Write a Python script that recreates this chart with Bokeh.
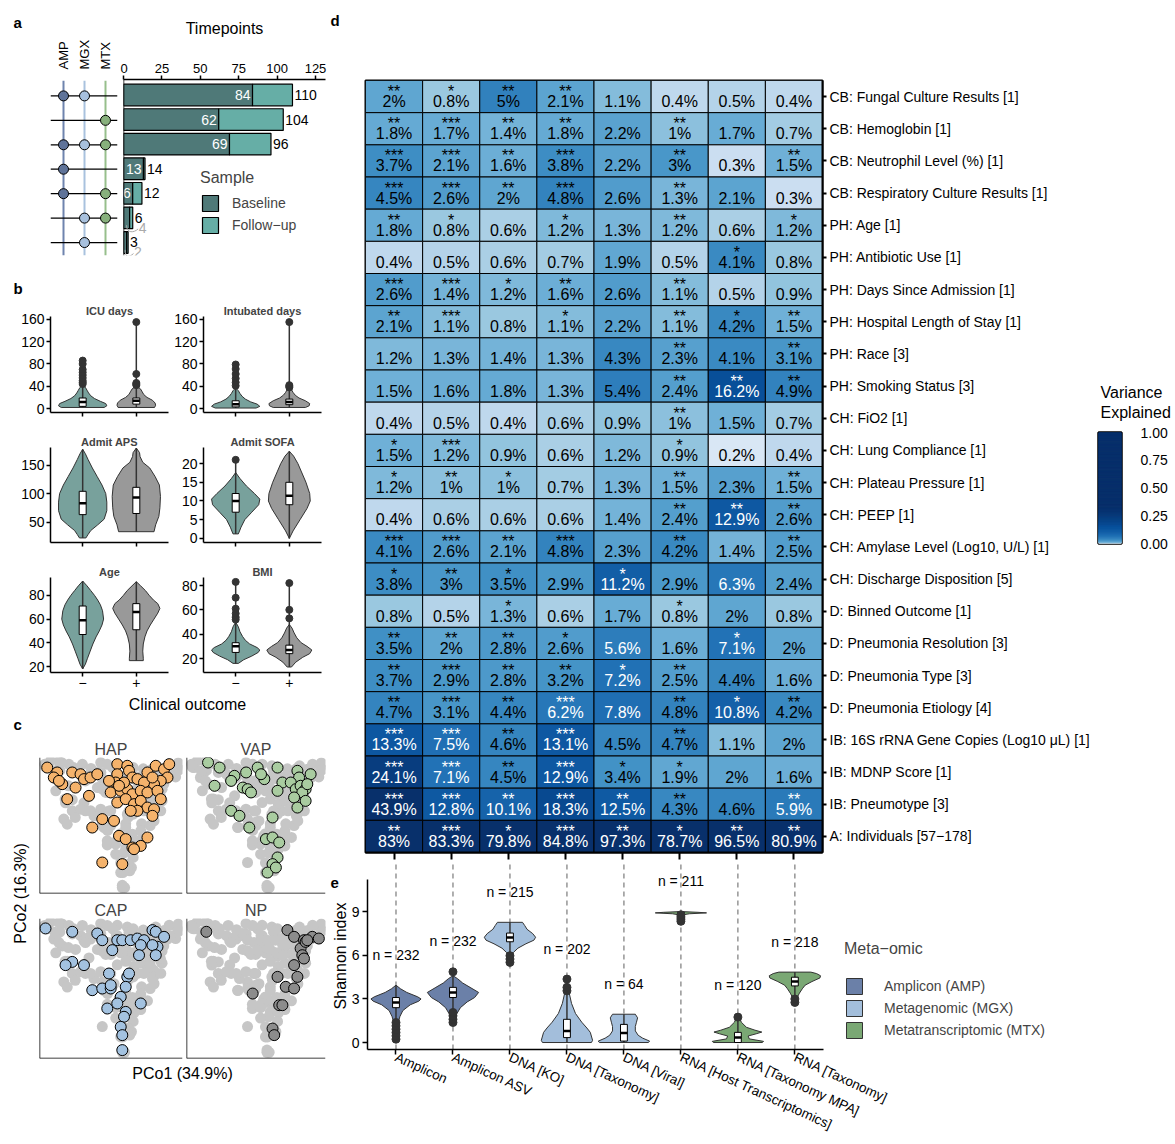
import numpy as np
from bokeh.plotting import figure
from bokeh.layouts import row, column
from bokeh.models import (Range1d, FactorRange, ColumnDataSource, Label, Legend,
                          LegendItem, FixedTicker, Span, LogColorMapper, LinearAxis,
                          NumeralTickFormatter)
from bokeh.core.properties import value
from bokeh.transform import transform
from bokeh.palettes import Blues256
from bokeh.embed import file_html
from bokeh.resources import INLINE

FONT = "Liberation Sans"

# ---------------- panel a data ----------------
A_SETS = ["AMP", "MGX", "MTX"]
A_ROWS = [1, 2, 3, 4, 5, 6, 7]
A_AMP = [1, 0, 1, 1, 1, 0, 0]
A_MGX = [1, 0, 1, 0, 0, 1, 1]
A_MTX = [0, 1, 1, 0, 1, 1, 0]
A_TOTAL = [110, 104, 96, 14, 12, 6, 3]
A_BASE = [84, 62, 69, 13, 6, 4, 2]
A_TICKS = [0, 25, 50, 75, 100, 125]

# ---------------- panel b data ----------------
ICU_NEG = dict(y=[2, 5, 9, 13, 18, 23, 28, 33, 38, 42], w=[0.4, 0.45, 0.43, 0.33, 0.22, 0.15, 0.11, 0.08, 0.05, 0.0], box=[4, 12, 19], out=[44, 47, 50, 55, 60, 65, 70, 80, 86])
ICU_POS = dict(y=[2, 6, 10, 15, 20, 25, 30, 35, 41], w=[0.34, 0.36, 0.35, 0.3, 0.2, 0.14, 0.11, 0.08, 0.0], box=[8, 14, 19], out=[42, 44, 46, 62, 155])
INT_NEG = dict(y=[1, 4, 8, 12, 17, 22, 27, 32, 37], w=[0.38, 0.45, 0.4, 0.28, 0.18, 0.12, 0.08, 0.05, 0.0], box=[3, 8, 14], out=[41, 47, 54, 62, 71, 79])
INT_POS = dict(y=[2, 5, 9, 14, 19, 24, 29, 34, 38], w=[0.3, 0.37, 0.38, 0.3, 0.18, 0.11, 0.07, 0.04, 0.0], box=[7, 12, 17], out=[38, 40, 42, 155])
APS_NEG = dict(y=[22, 28, 35, 45, 55, 70, 85, 100, 115, 130, 145, 160, 170, 178], w=[0.06, 0.1, 0.15, 0.28, 0.4, 0.45, 0.45, 0.43, 0.36, 0.27, 0.18, 0.1, 0.05, 0.0], box=[63, 83, 104], out=[])
APS_POS = dict(y=[33, 45, 60, 75, 95, 115, 130, 145, 155, 165, 172, 180], w=[0.33, 0.36, 0.42, 0.44, 0.45, 0.43, 0.35, 0.25, 0.12, 0.07, 0.06, 0.0], box=[65, 93, 111], out=[])
SOFA_NEG = dict(y=[1.2, 3, 5, 7, 9, 10.5, 12, 14, 16, 17.6], w=[0.05, 0.1, 0.17, 0.3, 0.43, 0.45, 0.35, 0.2, 0.08, 0.0], box=[7, 10, 12], out=[21])
SOFA_POS = dict(y=[0, 2, 5, 8, 10, 12, 15, 18, 20, 22, 23.3], w=[0.0, 0.07, 0.2, 0.33, 0.39, 0.38, 0.31, 0.22, 0.16, 0.08, 0.0], box=[9, 11.4, 15], out=[])
AGE_NEG = dict(y=[18, 22, 27, 33, 39, 45, 50, 55, 60, 67, 72, 76, 80, 84, 88, 92], w=[0.0, 0.05, 0.09, 0.14, 0.19, 0.25, 0.31, 0.36, 0.39, 0.37, 0.33, 0.28, 0.22, 0.15, 0.08, 0.0], box=[47, 59, 71], out=[])
AGE_POS = dict(y=[25, 27, 33, 39, 45, 50, 55, 60, 65, 69, 73, 76, 80, 84, 88, 91.5], w=[0.13, 0.13, 0.12, 0.13, 0.16, 0.2, 0.26, 0.33, 0.4, 0.44, 0.4, 0.32, 0.24, 0.17, 0.08, 0.0], box=[51, 66, 73], out=[])
BMI_NEG = dict(y=[16, 19, 22, 25, 27, 29, 32, 35, 38, 42, 46, 50], w=[0.05, 0.15, 0.3, 0.42, 0.45, 0.4, 0.26, 0.18, 0.13, 0.08, 0.05, 0.0], box=[25, 30, 33], out=[52, 54, 57, 61, 70, 83])
BMI_POS = dict(y=[13, 17, 21, 24, 27, 30, 33, 37, 41, 45, 48], w=[0.04, 0.12, 0.25, 0.38, 0.42, 0.33, 0.22, 0.14, 0.09, 0.05, 0.0], box=[24, 27, 31], out=[53, 60, 82])
B_TITLES = ["ICU days", "Intubated days", "Admit APS", "Admit SOFA", "Age", "BMI"]
B_TICKS = [[0, 40, 80, 120, 160], [0, 40, 80, 120, 160], [50, 100, 150], [0, 5, 10, 15, 20], [20, 40, 60, 80], [20, 40, 60, 80]]
B_OUTCOME = ["\u2212", "+"]

# ---------------- panel c data (PCo coordinates, relative units) ----------------
HAP_PTS = [(5.4, 92.6), (12.4, 89.0), (10.0, 85.3), (15.9, 80.4), (13.6, 82.8), (22.9, 89.0), (28.7, 87.7), (31.1, 84.1),
           (35.7, 85.3), (40.4, 87.7), (25.2, 77.9), (19.4, 69.4), (34.6, 71.8), (54.4, 95.1), (61.4, 93.9), (62.6, 90.2),
           (54.4, 87.7), (65.0, 85.3), (68.5, 84.1), (75.5, 89.0), (81.3, 93.9), (87.1, 91.4), (90.7, 95.1), (89.5, 85.3),
           (84.8, 82.8), (80.1, 80.4), (73.1, 81.6), (79.0, 85.3), (49.8, 74.3), (56.8, 75.5), (61.4, 76.7), (65.0, 73.0),
           (70.8, 75.5), (75.5, 74.3), (82.5, 75.5), (84.8, 69.4), (54.4, 66.9), (60.3, 69.4), (66.1, 65.7), (70.8, 68.1),
           (75.5, 63.2), (80.1, 62.0), (79.0, 57.1), (68.5, 60.8), (63.8, 60.8), (43.9, 54.7), (52.1, 53.4), (36.9, 48.5),
           (55.6, 42.4), (60.3, 40.0), (75.5, 41.2), (70.8, 35.0), (65.0, 33.8), (66.1, 32.6), (43.9, 22.8), (57.9, 21.6),
           (53.3, 81.6), (59.1, 81.6), (48.6, 82.8), (55.6, 79.2)]
VAP_PTS = [(15.5, 96.3), (23.8, 92.6), (20.2, 79.2), (34.5, 86.5), (42.9, 89.0), (40.5, 77.9), (44.0, 76.7), (51.2, 92.6),
           (56.0, 84.1), (53.6, 87.7), (65.5, 92.6), (69.0, 81.6), (65.5, 75.5), (79.8, 90.2), (81.0, 85.3), (89.3, 87.7),
           (75.0, 81.6), (78.6, 76.7), (82.1, 79.2), (85.7, 76.7), (83.3, 74.3), (77.4, 70.6), (79.8, 63.2), (85.7, 68.1),
           (32.1, 60.8), (38.1, 57.1), (45.2, 48.5), (61.9, 55.9), (57.1, 40.0), (61.9, 41.2), (66.7, 37.5), (65.5, 26.5),
           (61.9, 21.6), (58.3, 15.4), (64.3, 19.1), (46.4, 74.3), (32.1, 82.8), (86.9, 80.4)]
CAP_PTS = [(4.2, 92.9), (22.9, 90.5), (40.4, 89.3), (43.9, 84.5), (54.4, 84.5), (57.9, 84.5), (63.8, 84.5), (68.5, 85.7),
           (73.1, 84.5), (79.0, 91.7), (81.3, 90.5), (87.1, 86.9), (82.5, 79.8), (79.0, 81.0), (70.8, 81.0), (81.3, 73.8),
           (22.9, 69.0), (31.1, 66.7), (18.2, 66.7), (36.9, 48.8), (43.9, 50.0), (49.8, 50.0), (48.6, 60.7), (49.8, 52.4),
           (61.4, 58.3), (62.6, 60.7), (60.3, 51.2), (56.8, 44.0), (70.8, 39.3), (47.4, 35.7), (54.4, 39.3), (60.3, 33.3),
           (59.1, 29.8), (56.8, 22.6), (57.9, 16.7), (57.9, 6.0), (69.6, 73.8), (50.9, 77.4)]
NP_PTS = [(14.3, 90.5), (72.6, 91.7), (77.4, 86.9), (84.5, 84.5), (90.5, 86.9), (95.2, 85.7), (82.1, 78.6), (83.3, 73.8),
          (77.4, 66.7), (84.5, 71.4), (85.7, 83.3), (65.5, 58.3), (71.4, 51.2), (77.4, 50.0), (47.6, 46.4), (66.7, 38.1),
          (69.0, 38.1), (61.9, 21.4), (63.1, 16.7), (79.8, 58.3), (86.9, 84.5)]
OTHER_PTS = [(13.6, 97.0), (20.6, 95.0), (42.8, 96.3), (47.4, 95.0), (17.0, 54.7), (22.9, 60.8), (28.7, 62.0), (35.7, 60.8),
             (42.8, 62.0), (49.8, 60.8), (60.3, 48.5), (65.0, 43.6), (53.3, 36.3), (47.4, 38.7), (53.3, 28.9), (56.8, 15.4),
             (61.4, 19.1), (57.9, 4.4), (70.8, 46.0), (80.1, 53.4), (91.8, 87.7), (96.5, 92.6), (7.7, 97.5), (11.4, 75.5),
             (19.4, 51.0), (73.0, 60.8), (84.8, 60.8), (3.6, 95.0), (10.7, 90.2), (17.9, 69.4), (25.0, 55.9), (97.0, 96.0),
             (97.5, 91.0), (59.5, 4.4), (30.0, 95.0), (36.0, 92.0)]
C_GROUPS = ["HAP", "VAP", "CAP", "NP"]

# ---------------- panel d data ----------------
E_CATS = ["Amplicon", "Amplicon ASV", "DNA [KO]", "DNA [Taxonomy]", "DNA [Viral]",
          "RNA [Host Transcriptomics]", "RNA [Taxonomy MPA]", "RNA [Taxonomy]"]
HM_ROWS = ["CB: Fungal Culture Results [1]", "CB: Hemoglobin [1]", "CB: Neutrophil Level (%) [1]",
           "CB: Respiratory Culture Results [1]", "PH: Age [1]", "PH: Antibiotic Use [1]",
           "PH: Days Since Admission [1]", "PH: Hospital Length of Stay [1]", "PH: Race [3]",
           "PH: Smoking Status [3]", "CH: FiO2 [1]", "CH: Lung Compliance [1]", "CH: Plateau Pressure [1]",
           "CH: PEEP [1]", "CH: Amylase Level (Log10, U/L) [1]", "CH: Discharge Disposition [5]",
           "D: Binned Outcome [1]", "D: Pneumonia Resolution [3]", "D: Pneumonia Type [3]",
           "D: Pneumonia Etiology [4]", "IB: 16S rRNA Gene Copies (Log10 \u03bcL) [1]", "IB: MDNP Score [1]",
           "IB: Pneumotype [3]", "A: Individuals [57\u2212178]"]
HM_VALS = [
    [2, 0.8, 5, 2.1, 1.1, 0.4, 0.5, 0.4],
    [1.8, 1.7, 1.4, 1.8, 2.2, 1, 1.7, 0.7],
    [3.7, 2.1, 1.6, 3.8, 2.2, 3, 0.3, 1.5],
    [4.5, 2.6, 2, 4.8, 2.6, 1.3, 2.1, 0.3],
    [1.8, 0.8, 0.6, 1.2, 1.3, 1.2, 0.6, 1.2],
    [0.4, 0.5, 0.6, 0.7, 1.9, 0.5, 4.1, 0.8],
    [2.6, 1.4, 1.2, 1.6, 2.6, 1.1, 0.5, 0.9],
    [2.1, 1.1, 0.8, 1.1, 2.2, 1.1, 4.2, 1.5],
    [1.2, 1.3, 1.4, 1.3, 4.3, 2.3, 4.1, 3.1],
    [1.5, 1.6, 1.8, 1.3, 5.4, 2.4, 16.2, 4.9],
    [0.4, 0.5, 0.4, 0.6, 0.9, 1, 1.5, 0.7],
    [1.5, 1.2, 0.9, 0.6, 1.2, 0.9, 0.2, 0.4],
    [1.2, 1, 1, 0.7, 1.3, 1.5, 2.3, 1.5],
    [0.4, 0.6, 0.6, 0.6, 1.4, 2.4, 12.9, 2.6],
    [4.1, 2.6, 2.1, 4.8, 2.3, 4.2, 1.4, 2.5],
    [3.8, 3, 3.5, 2.9, 11.2, 2.9, 6.3, 2.4],
    [0.8, 0.5, 1.3, 0.6, 1.7, 0.8, 2, 0.8],
    [3.5, 2, 2.8, 2.6, 5.6, 1.6, 7.1, 2],
    [3.7, 2.9, 2.8, 3.2, 7.2, 2.5, 4.4, 1.6],
    [4.7, 3.1, 4.4, 6.2, 7.8, 4.8, 10.8, 4.2],
    [13.3, 7.5, 4.6, 13.1, 4.5, 4.7, 1.1, 2],
    [24.1, 7.1, 4.5, 12.9, 3.4, 1.9, 2, 1.6],
    [43.9, 12.8, 10.1, 18.3, 12.5, 4.3, 4.6, 5.9],
    [83, 83.3, 79.8, 84.8, 97.3, 78.7, 96.5, 80.9],
]
HM_STARS = [
    ["**", "*", "**", "**", "", "", "", ""],
    ["**", "***", "**", "**", "", "**", "", ""],
    ["***", "***", "**", "***", "", "**", "", "**"],
    ["***", "***", "**", "***", "", "**", "", ""],
    ["**", "*", "", "*", "", "**", "", "*"],
    ["", "", "", "", "", "", "*", ""],
    ["***", "***", "*", "**", "", "**", "", ""],
    ["**", "***", "", "*", "", "**", "*", "**"],
    ["", "", "", "", "", "**", "", "**"],
    ["", "", "", "", "", "**", "**", "**"],
    ["", "", "", "", "", "**", "", ""],
    ["*", "***", "", "", "", "*", "", ""],
    ["*", "**", "*", "", "", "**", "", "**"],
    ["", "", "", "", "", "**", "**", "**"],
    ["***", "***", "**", "***", "", "**", "", "**"],
    ["*", "**", "*", "", "*", "", "", ""],
    ["", "", "*", "", "", "*", "", ""],
    ["**", "**", "**", "*", "", "", "*", ""],
    ["**", "***", "**", "**", "*", "**", "", ""],
    ["**", "***", "**", "***", "", "**", "*", "**"],
    ["***", "***", "**", "***", "", "**", "", ""],
    ["***", "***", "**", "***", "*", "*", "", ""],
    ["***", "***", "**", "***", "**", "**", "", "**"],
    ["**", "***", "*", "***", "**", "*", "**", "**"],
]
CB_TICKS = [0, 0.25, 0.5, 0.75, 1.0]

# ---------------- panel e data ----------------
E_GROUP = ["AMP", "AMP", "MGX", "MGX", "MGX", "MTX", "MTX", "MTX"]
E_GROUP_LABELS = {"AMP": "Amplicon (AMP)", "MGX": "Metagenomic (MGX)", "MTX": "Metatranscriptomic (MTX)"}
E_N = [232, 232, 215, 202, 64, 211, 120, 218]
E_AMPLICON = dict(y=[0.2, 0.8, 1.4, 1.8, 2.2, 2.6, 2.85, 3.0, 3.15, 3.45, 3.7, 3.95], w=[0.01, 0.02, 0.04, 0.07, 0.12, 0.25, 0.4, 0.44, 0.38, 0.19, 0.08, 0.0], box=[2.4, 2.75, 3.1], out=[0.23, 0.46, 0.69, 0.92, 1.15, 1.38])
E_ASV = dict(y=[1.4, 1.6, 2.0, 2.4, 2.8, 3.1, 3.45, 3.8, 4.1, 4.4, 4.6], w=[0.01, 0.03, 0.07, 0.13, 0.25, 0.38, 0.45, 0.3, 0.17, 0.08, 0.0], box=[3.1, 3.45, 3.8], out=[1.38, 1.6, 1.84, 2.07, 4.87])
E_KO = dict(y=[5.5, 5.9, 6.2, 6.5, 6.8, 7.05, 7.25, 7.5, 7.8, 8.05, 8.28], w=[0.01, 0.03, 0.06, 0.14, 0.28, 0.42, 0.45, 0.4, 0.3, 0.26, 0.22], box=[6.94, 7.24, 7.54], out=[5.52, 5.75, 5.98])
E_DTAX = dict(y=[0.0, 0.15, 0.7, 1.0, 1.4, 2.0, 2.7, 3.4, 4.0, 4.3], w=[0.43, 0.45, 0.41, 0.35, 0.26, 0.15, 0.08, 0.04, 0.02, 0.0], box=[0.34, 0.8, 1.6], out=[3.56, 3.8, 4.37])
E_VIRAL = dict(y=[0.0, 0.1, 0.3, 0.5, 0.8, 1.1, 1.4, 1.7, 1.95], w=[0.43, 0.45, 0.33, 0.25, 0.2, 0.2, 0.22, 0.24, 0.2], box=[0.1, 0.65, 1.25], out=[])
E_HOST = dict(y=[8.3, 8.6, 8.8, 8.87, 8.93, 8.97, 9.02], w=[0.01, 0.02, 0.04, 0.15, 0.45, 0.3, 0.0], box=[8.9, 8.93, 8.96], out=[8.35, 8.5, 8.65, 8.8])
E_MPA = dict(y=[0.0, 0.08, 0.25, 0.45, 0.6, 0.72, 0.85, 1.05, 1.4, 1.7, 1.85], w=[0.43, 0.45, 0.2, 0.18, 0.32, 0.42, 0.3, 0.15, 0.06, 0.03, 0.0], box=[0.0, 0.35, 0.7], out=[1.75])
E_RTAX = dict(y=[2.8, 3.1, 3.4, 3.7, 3.95, 4.2, 4.45, 4.6, 4.75, 4.85], w=[0.01, 0.04, 0.08, 0.13, 0.18, 0.3, 0.44, 0.45, 0.38, 0.28], box=[3.9, 4.2, 4.5], out=[2.76, 3.0])
E_TICKS = [0, 3, 6, 9]

# ---------------- styles ----------------
BASE_COL, FOLLOW_COL = "#4f7978", "#66aea6"
SET_LINE = ["#6f84ae", "#a9c2de", "#97bf8c"]
SET_DOT = ["#5f7399", "#a7c0dd", "#87b07c"]
NEG_COL, POS_COL = "#78a19c", "#999999"
C_COLS = ["#f5b36c", "#a9cca0", "#a3c2e0", "#8c8c8c"]
GREY_BG = "#c6c6c6"
OMIC_COL = {"AMP": "#6b80a8", "MGX": "#a3bedb", "MTX": "#7aa874"}
DARK = "#333333"


def mk(w, h, xr=None, yr=None, bl=0, br=0, bt=0, bb=0, xloc=None, yloc=None, title=None):
    p = figure(width=w, height=h, x_range=xr if xr is not None else Range1d(0, 1),
               y_range=yr if yr is not None else Range1d(0, 1), output_backend="svg",
               toolbar_location=None, x_axis_location=xloc, y_axis_location=yloc,
               min_border_left=bl, min_border_right=br, min_border_top=bt, min_border_bottom=bb,
               title=title)
    p.frame_align = False
    p.outline_line_color = None
    p.grid.visible = False
    p.background_fill_color = "white"
    p.border_fill_color = "white"
    return p


def sty(ax, size="14px", lw=1.5, tout=4, standoff=3):
    ax.major_label_text_font = FONT
    ax.major_label_text_font_size = size
    ax.major_label_text_color = "black"
    ax.axis_label_text_font = FONT
    ax.axis_label_text_font_style = "normal"
    ax.axis_label_text_color = "black"
    ax.axis_line_width = lw
    ax.axis_line_color = "black"
    ax.major_tick_line_color = "black"
    ax.major_tick_line_width = lw
    ax.major_tick_out = tout
    ax.major_tick_in = 0
    ax.minor_tick_line_color = None
    ax.major_label_standoff = standoff


def txt(p, s, x, y, size="15px", bold=False, angle=0.0, align="left", baseline="middle", color="black"):
    p.add_layout(Label(x=x, y=y, x_units="screen", y_units="screen", text=s, text_font=FONT,
                       text_font_size=size, text_font_style="bold" if bold else "normal",
                       angle=angle, text_align=align, text_baseline=baseline, text_color=color))


def violin(p, c, d, fill, bw, dot):
    ys, ws = list(d["y"]), list(d["w"])
    xs = [c + w for w in ws] + [c - w for w in ws[::-1]]
    yy = ys + ys[::-1]
    allv = ys + list(d["out"])
    lo, hi = min(allv), max(allv)
    r = p.patch(xs, yy, fill_color=fill, line_color=DARK, line_width=1)
    p.segment(x0=[c], y0=[lo], x1=[c], y1=[hi], line_color=DARK, line_width=1.5)
    q1, med, q3 = d["box"]
    p.quad(left=[c - bw], right=[c + bw], bottom=[q1], top=[q3], fill_color="white", line_color="black", line_width=1)
    p.segment(x0=[c - bw], y0=[med], x1=[c + bw], y1=[med], line_color="black", line_width=2.5)
    if d["out"]:
        p.scatter([c] * len(d["out"]), d["out"], size=dot, fill_color=DARK, line_color=DARK)
    return r, hi


# =============== PANEL A ===============
YR_A = (7.53, 0.37)
a_strip = mk(120, 36)
txt(a_strip, "a", 13, 14, bold=True)
pa_m = mk(120, 234, Range1d(0.381, 3.571), Range1d(*YR_A), bl=50, br=3, bt=43, bb=15)
ax = LinearAxis(ticker=FixedTicker(ticks=[i + 1 for i in range(len(A_SETS))]),
                major_label_overrides={i + 1: s for i, s in enumerate(A_SETS)},
                major_label_orientation=np.pi / 2)
sty(ax, "13px", standoff=7)
ax.axis_line_color = None
ax.major_tick_line_color = None
pa_m.add_layout(ax, "above")
for j, col in enumerate(SET_LINE):
    pa_m.add_layout(Span(location=j + 1, dimension="height", line_color=col, line_width=2, level="underlay"))
for r_ in A_ROWS:
    pa_m.add_layout(Span(location=r_, dimension="width", line_color="black", line_width=1.2, level="underlay"))
for j, (mem, dc) in enumerate(zip([A_AMP, A_MGX, A_MTX], SET_DOT)):
    ys = [r_ for r_, m in zip(A_ROWS, mem) if m]
    pa_m.scatter([j + 1] * len(ys), ys, size=10, fill_color=dc, line_color="black", line_width=1)

pa_b = mk(208, 270, Range1d(0, 131.5), Range1d(*YR_A), bl=3, br=3, bt=79, bb=15, xloc="above")
sty(pa_b.xaxis, "13px", standoff=3)
pa_b.xaxis.ticker = FixedTicker(ticks=A_TICKS)
pa_b.xaxis.axis_label = "Timepoints"
pa_b.xaxis.axis_label_text_font_size = "16px"
pa_b.xaxis.axis_label_standoff = 24
pa_b.add_layout(Span(location=0, dimension="height", line_color="black", line_width=1.5))
src_a = ColumnDataSource(dict(y=A_ROWS, base=A_BASE, tot=A_TOTAL, zero=[0] * len(A_ROWS)))
rb = pa_b.hbar(y="y", left="zero", right="base", height=0.88, fill_color=BASE_COL, line_color="black", line_width=1.2, source=src_a)
rf = pa_b.hbar(y="y", left="base", right="tot", height=0.88, fill_color=FOLLOW_COL, line_color="black", line_width=1.2, source=src_a)
ins = [i for i, b in enumerate(A_BASE) if b >= 5]
outs = [i for i, b in enumerate(A_BASE) if b < 5]
pa_b.text(x=[A_BASE[i] for i in ins], y=[A_ROWS[i] for i in ins], text=[str(A_BASE[i]) for i in ins],
          x_offset=-2, text_align="right", text_baseline="middle", text_color="white",
          text_font=value(FONT), text_font_size="14px")
pa_b.text(x=A_TOTAL, y=A_ROWS, text=[str(t) for t in A_TOTAL], x_offset=2, text_align="left",
          text_baseline="middle", text_color="black", text_font=value(FONT), text_font_size="14px")
pa_b.text(x=[A_TOTAL[i] for i in outs], y=[A_ROWS[i] for i in outs], text=[str(A_BASE[i]) for i in outs],
          x_offset=6, y_offset=10, text_align="left", text_baseline="middle", text_color="#aaaaaa",
          text_font=value(FONT), text_font_size="14px")
pa_b.bezier(x0=[A_BASE[i] * 0.5 for i in outs], y0=[A_ROWS[i] + 0.3 for i in outs],
            x1=[A_TOTAL[i] + 3.5 for i in outs], y1=[A_ROWS[i] + 0.45 for i in outs],
            cx0=[A_BASE[i] * 0.5 for i in outs], cy0=[A_ROWS[i] + 0.65 for i in outs],
            cx1=[A_TOTAL[i] + 1 for i in outs], cy1=[A_ROWS[i] + 0.6 for i in outs],
            line_color="#aaaaaa", line_width=1)
leg_a = Legend(items=[LegendItem(label="Baseline", renderers=[rb]), LegendItem(label="Follow\u2212up", renderers=[rf])],
               title="Sample", location=(77, 20), glyph_width=20, glyph_height=20, spacing=2,
               padding=0, margin=0, border_line_color=None, background_fill_alpha=0,
               label_text_font=FONT, label_text_font_size="14px", title_text_font=FONT,
               title_text_font_size="16px", title_text_font_style="normal", label_standoff=12, title_standoff=6)
pa_b.add_layout(leg_a)

# =============== PANEL B ===============
b_strip = mk(328, 30)
txt(b_strip, "b", 13, 12, bold=True)
B_DATA = [(ICU_NEG, ICU_POS), (INT_NEG, INT_POS), (APS_NEG, APS_POS), (SOFA_NEG, SOFA_POS), (AGE_NEG, AGE_POS), (BMI_NEG, BMI_POS)]
B_YR = [(-7, 165), (-7, 165), (14, 181), (-1.1, 24.3), (15, 95), (8.5, 86.6)]
ROW_GEOM = [(130, 16, 18), (130, 17, 18), (134, 17, 22)]
b_figs = []
for k in range(6):
    rr, cc = divmod(k, 2)
    h, bt, bb = ROW_GEOM[rr]
    if cc == 0:
        w, bl, br = 170, 50, 2
    else:
        w, bl, br = 158, 33, 7
    p = mk(w, h, Range1d(0.4, 2.6), Range1d(*B_YR[k]), bl=bl, br=br, bt=bt, bb=bb, xloc="below", yloc="left",
           title=B_TITLES[k])
    p.title.align = "center"
    p.title.text_font = FONT
    p.title.text_font_size = "11px"
    p.title.text_font_style = "bold"
    p.title.standoff = 0
    sty(p.yaxis, "14px", lw=1.5, tout=4, standoff=2)
    p.yaxis.ticker = FixedTicker(ticks=B_TICKS[k])
    sty(p.xaxis, "14px", lw=1.5, tout=4, standoff=1)
    p.xaxis.ticker = FixedTicker(ticks=[1, 2])
    if rr == 2:
        p.xaxis.major_label_overrides = {1: B_OUTCOME[0], 2: B_OUTCOME[1]}
    else:
        p.xaxis.major_label_overrides = {1: "", 2: ""}
    neg, pos = B_DATA[k]
    violin(p, 1, neg, NEG_COL, 0.065, 7)
    violin(p, 2, pos, POS_COL, 0.065, 7)
    b_figs.append(p)

p_clin = mk(328, 18)
txt(p_clin, "Clinical outcome", 187, 8, size="16px", align="center")

# =============== PANEL C ===============
all_pts = HAP_PTS + VAP_PTS + CAP_PTS + NP_PTS + OTHER_PTS
gx = [p_[0] for p_ in all_pts]
gy = [p_[1] for p_ in all_pts]
C_GEOM = [(146, 184, 1, 2, 45, 3), (144, 184, 2, 3, 45, 3), (146, 166, 1, 2, 22, 4), (144, 166, 2, 3, 22, 4)]
c_figs = []
for k, (pts, nm, colr) in enumerate(zip([HAP_PTS, VAP_PTS, CAP_PTS, NP_PTS], C_GROUPS, C_COLS)):
    w, h, bl, br, bt, bb = C_GEOM[k]
    p = mk(w, h, Range1d(0, 100), Range1d(0, 100), bl=bl, br=br, bt=bt, bb=bb, title=nm)
    p.title.align = "center"
    p.title.text_font = FONT
    p.title.text_font_size = "16px"
    p.title.text_font_style = "normal"
    p.title.standoff = 0
    p.scatter(gx, gy, size=11, fill_color=GREY_BG, line_color=None)
    p.scatter([q[0] for q in pts], [q[1] for q in pts], size=11, fill_color=colr, line_color="black", line_width=1)
    p.add_layout(Span(location=0, dimension="height", line_color="black", line_width=1.5))
    p.add_layout(Span(location=0, dimension="width", line_color="black", line_width=1.5))
    c_figs.append(p)

p_ylab = mk(38, 350)
txt(p_ylab, "c", 13, 338, bold=True)
txt(p_ylab, "PCo2 (16.3%)", 20, 169, size="16px", angle=np.pi / 2, align="center")
p_xlab = mk(328, 28)
txt(p_xlab, "PCo1 (34.9%)", 182, 17, size="16px", align="center")

# =============== PANEL D ===============
d_strip = mk(845, 32)
txt(d_strip, "d", 2, 12, bold=True)
XR = FactorRange(factors=E_CATS)
pal = list(Blues256)
if int(pal[0][1:3], 16) < int(pal[-1][1:3], 16):
    pal = pal[::-1]
mapper = LogColorMapper(palette=pal, low=0.00078, high=0.33)

p_hm = mk(768, 830, XR, FactorRange(factors=list(reversed(HM_ROWS))), bl=37, br=274, bt=48, bb=10,
          xloc="below", yloc="right")
p_hm.outline_line_color = "black"
p_hm.outline_line_width = 2
sty(p_hm.xaxis, "1px", lw=2, tout=7, standoff=0)
p_hm.xaxis.major_label_text_color = None
sty(p_hm.yaxis, "14px", lw=2, tout=4, standoff=3)
hx, hy, hf, hl, hs, hc = [], [], [], [], [], []
for i, rl in enumerate(HM_ROWS):
    for j, cl in enumerate(E_CATS):
        v = HM_VALS[i][j]
        hx.append(cl)
        hy.append(rl)
        hf.append(v / 100.0)
        hl.append(f"{v:g}%")
        hs.append(HM_STARS[i][j])
        hc.append("white" if v >= 5.5 else "black")
src_hm = ColumnDataSource(dict(x=hx, y=hy, f=hf, lab=hl, st=hs, tc=hc))
p_hm.rect(x="x", y="y", width=1, height=1, source=src_hm, fill_color=transform("f", mapper),
          line_color="black", line_width=1)
p_hm.text(x="x", y="y", text="lab", source=src_hm, text_color="tc", text_align="center",
          text_baseline="middle", y_offset=5, text_font=value(FONT), text_font_size="16px")
p_hm.text(x="x", y="y", text="st", source=src_hm, text_color="tc", text_align="center",
          text_baseline="middle", y_offset=-5, text_font=value(FONT), text_font_size="16px")

cb_top = mk(77, 395)
txt(cb_top, "Variance", 4, 35, size="16px")
txt(cb_top, "Explained", 4, 15, size="16px")
cb_main = mk(77, 435, Range1d(0, 1), Range1d(0, 1), bl=2, br=52, bt=5, bb=319, yloc="right")
cb_main.outline_line_color = "black"
cb_main.outline_line_width = 2.5
lev = np.linspace(0, 1, 301)
src_cb = ColumnDataSource(dict(b=lev[:-1], t=lev[1:], m=(lev[:-1] + lev[1:]) / 2))
cb_main.quad(left=cb_main.x_range.start, right=cb_main.x_range.end, bottom="b", top="t", source=src_cb,
             fill_color=transform("m", mapper), line_color=transform("m", mapper), line_width=1)
sty(cb_main.yaxis, "14px", lw=1, tout=0, standoff=19)
cb_main.yaxis.axis_line_color = None
cb_main.yaxis.major_tick_line_color = None
cb_main.yaxis.ticker = FixedTicker(ticks=CB_TICKS)
cb_main.yaxis.formatter = NumeralTickFormatter(format="0.00")

# =============== PANEL E ===============
E_W, E_H, E_BL, E_BB = 825, 280, 17, 93
UNIT = 457 / len(E_CATS)
e_strip = mk(20, E_H)
txt(e_strip, "e", 2, E_H - 20, bold=True)
txt(e_strip, "Shannon index", 12, E_BB + (E_H - E_BB) / 2, size="16px", angle=np.pi / 2, align="center")
p_e = mk(E_W, E_H, Range1d(0, (E_W - E_BL) / UNIT), Range1d(-0.48, 12.4), bl=E_BL, br=0, bt=0, bb=E_BB,
         xloc="below", yloc="left")
sty(p_e.yaxis, "14px", lw=1.5, tout=5, standoff=3)
p_e.yaxis.ticker = FixedTicker(ticks=E_TICKS)
p_e.yaxis.bounds = (p_e.y_range.start, 11.2)
xc = [i + 0.5 for i in range(len(E_CATS))]
sty(p_e.xaxis, "13.5px", lw=1.5, tout=5, standoff=2)
p_e.xaxis.ticker = FixedTicker(ticks=xc)
p_e.xaxis.major_label_overrides = {c: n for c, n in zip(xc, E_CATS)}
p_e.xaxis.major_label_orientation = -0.43
p_e.xaxis.bounds = (0, len(E_CATS))
p_e.segment(x0=xc, y0=[p_e.y_range.start] * len(xc), x1=xc, y1=[p_e.y_range.end] * len(xc),
            line_color="#7a7a7a", line_width=1.2, line_dash="5 4")
E_DATA = [E_AMPLICON, E_ASV, E_KO, E_DTAX, E_VIRAL, E_HOST, E_MPA, E_RTAX]
grp_r = {}
nx, ny, nt = [], [], []
for i, (d, g, n) in enumerate(zip(E_DATA, E_GROUP, E_N)):
    c = xc[i]
    r_, hi = violin(p_e, c, d, OMIC_COL[g], 0.06, 8)
    grp_r.setdefault(g, r_)
    nx.append(c)
    ny.append(hi + 2.1)
    nt.append(f"n = {n}")
p_e.text(x=nx, y=ny, text=nt, text_align="center", text_baseline="middle", text_color="black",
         text_font=value(FONT), text_font_size="14px")
leg_e = Legend(items=[LegendItem(label=E_GROUP_LABELS[g], renderers=[grp_r[g]]) for g in ["AMP", "MGX", "MTX"]],
               title="Meta\u2212omic", location=(477, 9), glyph_width=20, glyph_height=20, spacing=2,
               padding=0, margin=0, border_line_color=None, background_fill_alpha=0,
               label_text_font=FONT, label_text_font_size="14px", title_text_font=FONT,
               title_text_font_size="16px", title_text_font_style="normal", label_standoff=20, title_standoff=18)
p_e.add_layout(leg_e)

# =============== LAYOUT ===============
left = column(
    row(column(a_strip, pa_m), pa_b),
    b_strip,
    row(b_figs[0], b_figs[1]),
    row(b_figs[2], b_figs[3]),
    row(b_figs[4], b_figs[5]),
    p_clin,
    row(p_ylab, column(row(c_figs[0], c_figs[1]), row(c_figs[2], c_figs[3]))),
    p_xlab,
)
right = column(d_strip, row(p_hm, column(cb_top, cb_main)), row(e_strip, p_e))
layout = row(left, right)

open("out.html", "w").write(file_html(layout, INLINE))
